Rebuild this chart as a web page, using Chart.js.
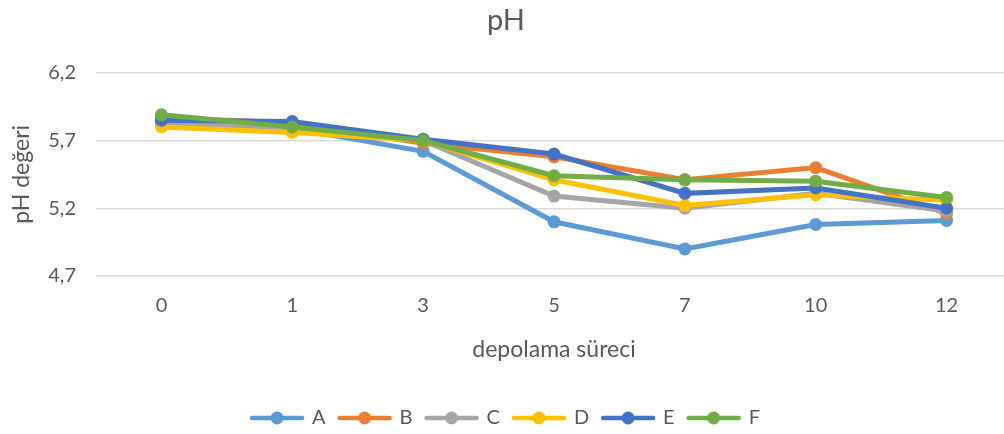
<!DOCTYPE html>
<html lang="tr">
<head>
<meta charset="utf-8">
<title>pH</title>
<script src="https://cdn.jsdelivr.net/npm/chart.js@4"></script>
<style>
  html, body { margin: 0; padding: 0; background: #fff; overflow: hidden; }
  canvas { display: block; }
</style>
</head>
<body>
<canvas id="ph-chart" width="1012" height="434"></canvas>
<script>
// depolama süreci (x ekseni)
const sureler = ["0", "1", "3", "5", "7", "10", "12"];

// pH değerleri, seri başına
const serieA = [5.84, 5.79, 5.62, 5.10, 4.90, 5.08, 5.11];
const serieB = [5.87, 5.83, 5.68, 5.58, 5.41, 5.50, 5.16];
const serieC = [5.83, 5.79, 5.70, 5.29, 5.20, 5.31, 5.18];
const serieD = [5.80, 5.76, 5.70, 5.41, 5.22, 5.30, 5.26];
const serieE = [5.85, 5.84, 5.71, 5.60, 5.31, 5.35, 5.20];
const serieF = [5.89, 5.80, 5.70, 5.44, 5.41, 5.40, 5.28];

const seriAdlari = ["A", "B", "C", "D", "E", "F"];
const seriRenkleri = ["#5B9BD5", "#ED7D31", "#A5A5A5", "#FFC000", "#4472C4", "#70AD47"];

// y ekseni: 4,7 - 6,2
const yMin = 4.7;
const yMax = 6.2;
const yAdim = 0.5;

const yaziRengi = "#595959";
const yaziTipi = "Lato, 'Open Sans', sans-serif";

// Lejant için çizgi + nokta simgesi
function lejantSimgesi(renk) {
  const c = document.createElement("canvas");
  c.width = 56;
  c.height = 16;
  const g = c.getContext("2d");
  g.strokeStyle = renk;
  g.lineWidth = 4.5;
  g.lineCap = "round";
  g.beginPath();
  g.moveTo(3, 8);
  g.lineTo(53, 8);
  g.stroke();
  g.fillStyle = renk;
  g.beginPath();
  g.arc(28, 8, 6.5, 0, Math.PI * 2);
  g.fill();
  return c;
}

const tumSeriler = [serieA, serieB, serieC, serieD, serieE, serieF];
const simgeler = seriRenkleri.map(lejantSimgesi);

const datasets = tumSeriler.map((veri, i) => ({
  label: seriAdlari[i],
  data: veri,
  borderColor: seriRenkleri[i],
  backgroundColor: seriRenkleri[i],
  borderWidth: 5,
  pointRadius: 6.5,
  pointHoverRadius: 6.5,
  pointBorderWidth: 0,
  tension: 0,
  order: tumSeriler.length - i, // F en üstte çizilsin
}));

const ctx = document.getElementById("ph-chart").getContext("2d");
new Chart(ctx, {
  type: "line",
  data: { labels: sureler, datasets: datasets },
  options: {
    responsive: false,
    animation: false,
    devicePixelRatio: 1,
    layout: { autoPadding: false, padding: { left: 0, right: 0, top: 0, bottom: -4 } },
    plugins: {
      tooltip: { enabled: false },
      title: {
        display: true,
        text: "pH",
        color: yaziRengi,
        font: { family: yaziTipi, size: 29, weight: "normal" },
        padding: { top: 3, bottom: 35 },
      },
      legend: {
        position: "bottom",
        labels: {
          usePointStyle: true,
          pointStyleWidth: 50,
          padding: 14,
          color: yaziRengi,
          font: { family: yaziTipi, size: 20 },
          generateLabels: (chart) => chart.data.datasets.map((ds, i) => ({
            text: ds.label,
            pointStyle: simgeler[i],
            fillStyle: ds.borderColor,
            strokeStyle: ds.borderColor,
            lineWidth: 0,
            fontColor: yaziRengi,
            hidden: false,
            datasetIndex: i,
          })),
        },
      },
    },
    scales: {
      x: {
        offset: true,
        afterFit: (scale) => { scale.height = 118; },
        grid: { display: false, drawTicks: false },
        border: { display: false },
        ticks: {
          color: yaziRengi,
          padding: 18,
          font: { family: yaziTipi, size: 20 },
        },
        title: {
          display: true,
          text: "depolama süreci",
          color: yaziRengi,
          font: { family: yaziTipi, size: 23 },
          padding: { top: 0, bottom: 31 },
        },
      },
      y: {
        min: yMin,
        max: yMax,
        afterFit: (scale) => { scale.width = 96; },
        grid: { color: "#D9D9D9", lineWidth: 1.5, drawTicks: false },
        border: { display: false },
        ticks: {
          stepSize: yAdim,
          color: yaziRengi,
          padding: 20,
          font: { family: yaziTipi, size: 20 },
          callback: (v) => v.toFixed(1).replace(".", ","),
        },
        title: {
          display: true,
          text: "pH değeri",
          color: yaziRengi,
          font: { family: yaziTipi, size: 23 },
          padding: { top: 8, bottom: 8 },
        },
      },
    },
  },
});
</script>
</body>
</html>
